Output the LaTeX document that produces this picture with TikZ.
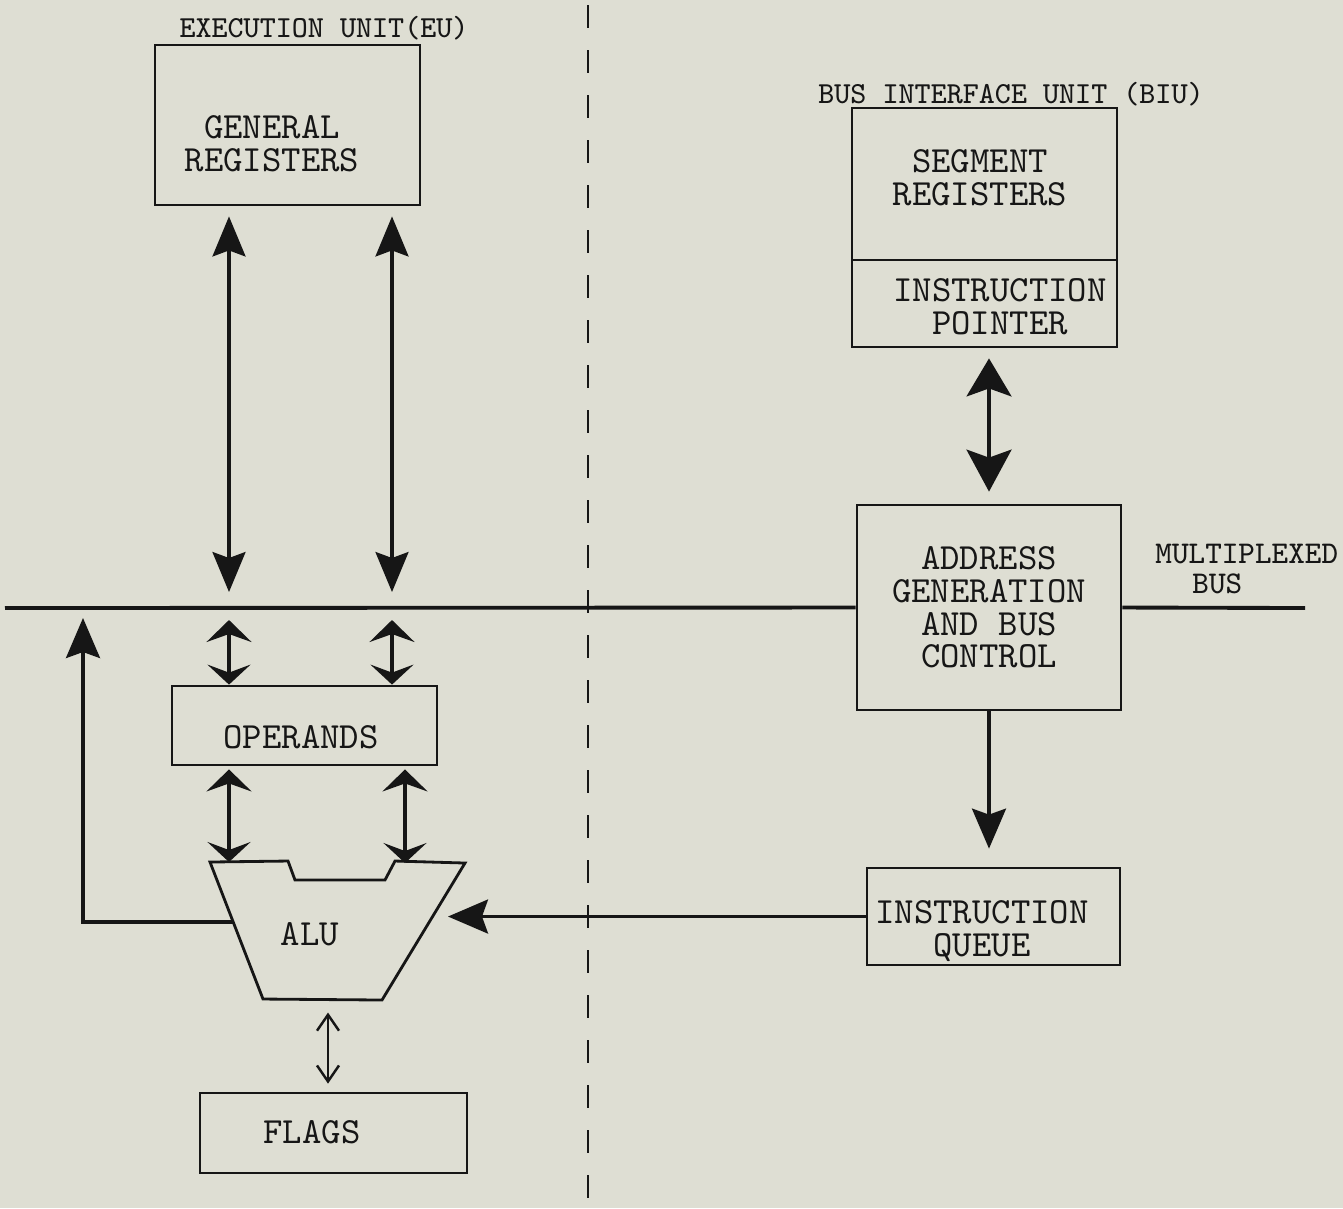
\documentclass[tikz,border=0pt]{standalone}
\usepackage{fontspec}
\usepackage{tikz}
\usetikzlibrary{arrows.meta,calc}
\definecolor{paper}{RGB}{222,222,211}
\definecolor{ink}{RGB}{22,22,22}
\tikzset{
  blk/.style={draw=ink, line width=0.8pt, inner sep=0pt},
  txt/.style={text=ink, font=\fontsize{10.5}{9.3}\selectfont\ttfamily, align=center},
  lbl/.style={text=ink, font=\fontsize{8.7}{8}\selectfont\ttfamily},
  dbl/.style={draw=ink, line width=0.9pt, {Stealth[length=4mm,width=3.3mm,inset=0.6mm]}-{Stealth[length=4mm,width=3.3mm,inset=0.6mm]}},
  sgl/.style={draw=ink, line width=0.9pt, -{Stealth[length=4mm,width=3.4mm,inset=0.6mm]}},
  flatarr/.style={draw=ink, line width=0.9pt, {Stealth[length=2.2mm,width=4.5mm,inset=0.8mm]}-{Stealth[length=2mm,width=4.3mm,inset=0.8mm]}},
  flagarr/.style={draw=ink, line width=0.7pt, {Straight Barb[length=1.6mm,width=2.2mm]}-{Straight Barb[length=1.6mm,width=2.2mm]}},
  bus/.style={draw=ink, line width=1.1pt}
}

\begin{document}
\begin{tikzpicture}
\useasboundingbox (0,0) rectangle (13.43,-12.08);
\fill[paper] (0,0) rectangle (13.43,-12.08);

% divider between the two units
\draw[ink, line width=0.7pt, dash pattern=on 0.23cm off 0.22cm] (5.88,-0.05) -- (5.88,-12.08);

\coordinate (busW) at (0.05,-6.08);
\coordinate (busE) at (13.05,-6.08);
\coordinate (la) at (2.29,0);
\coordinate (lb) at (3.92,0);
\coordinate (lc) at (4.05,0);
\coordinate (lf) at (0.83,0);

% execution unit
\node[lbl, anchor=base] (eu) at (3.24,-0.37) {EXECUTION UNIT(EU)};
\node[blk, minimum width=2.65cm, minimum height=1.6cm] (genreg) at (2.875,-1.25) {};
\node[txt] (genregt) at (2.72,-1.44) {GENERAL\\REGISTERS};
\node[blk, minimum width=2.65cm, minimum height=0.79cm] (ops) at (3.045,-7.255) {};
\node[txt] (opst) at (3.01,-7.375) {OPERANDS};
\node[blk, minimum width=2.67cm, minimum height=0.8cm] (flags) at (3.335,-11.33) {};
\node[txt] (flagst) at (3.12,-11.32) {FLAGS};

\coordinate (alutl) at (2.10,-8.62);
\coordinate (alutr) at (4.65,-8.63);
\draw[ink, line width=0.8pt] (alutl) -- (2.88,-8.61) -- (2.95,-8.80) -- (3.85,-8.80) -- (3.95,-8.61) -- (alutr) -- (3.82,-10.00) -- (2.63,-9.99) -- cycle;
\node[txt] (alut) at (3.10,-9.34) {ALU};
\coordinate (alul) at (2.33,-9.22);
\coordinate (alur) at (4.48,-9.165);
\coordinate (alub) at (3.28,-9.995);

\draw[dbl, shorten <=0.1cm, shorten >=0.16cm] (genreg.south -| la) -- (la |- busW);
\draw[dbl, shorten <=0.1cm, shorten >=0.16cm] (genreg.south -| lb) -- (lb |- busW);
\draw[flatarr, shorten <=0.12cm] (la |- busW) -- (ops.north -| la);
\draw[flatarr, shorten <=0.12cm] (lb |- busW) -- (ops.north -| lb);
\draw[flatarr, shorten <=0.03cm] (ops.south -| la) -- (la |- alutl);
\draw[flatarr, shorten <=0.03cm] (ops.south -| lc) -- (lc |- alutr);
\draw[sgl, shorten >=0.1cm] (alul) -| (lf |- busW);
\draw[flagarr, shorten <=0.13cm, shorten >=0.08cm] (alub) -- (alub |- flags.north);

% bus interface unit
\node[lbl, anchor=base] (biu) at (10.11,-1.03) {BUS INTERFACE UNIT (BIU)};
\node[blk, minimum width=2.65cm, minimum height=1.52cm] (segreg) at (9.845,-1.84) {};
\node[txt] (segt) at (9.80,-1.775) {SEGMENT\\REGISTERS};
\node[blk, minimum width=2.65cm, minimum height=0.87cm] (ipbox) at (9.845,-3.035) {};
\node[txt] (ipt) at (10.00,-3.065) {INSTRUCTION\\POINTER};
\node[blk, txt, minimum width=2.64cm, minimum height=2.05cm] (addr) at (9.89,-6.075) {ADDRESS\\GENERATION\\AND BUS\\CONTROL};
\node[blk, minimum width=2.53cm, minimum height=0.97cm] (queue) at (9.935,-9.165) {};
\node[txt] (queuet) at (9.82,-9.31) {INSTRUCTION\\QUEUE};
\node[text=ink, font=\fontsize{9}{8.8}\selectfont\ttfamily, align=left, anchor=west] (mux) at (11.43,-5.69) {MULTIPLEXED\\\hspace*{0.37cm}BUS};

\draw[bus] (busW) -- (addr.west);
\draw[bus] (addr.east) -- (busE);
\draw[ink, line width=0.9pt, {Stealth[length=3.8mm,width=4.5mm,inset=0.8mm]}-{Stealth[length=4.2mm,width=4.5mm,inset=0.8mm]}, shorten <=0.1cm, shorten >=0.12cm] (addr.north |- ipbox.south) -- (addr.north);
\draw[sgl, shorten >=0.18cm] (addr.south) -- (queue.north -| addr.south);
\draw[sgl] (queue.west) -- (alur);
\end{tikzpicture}
\end{document}
